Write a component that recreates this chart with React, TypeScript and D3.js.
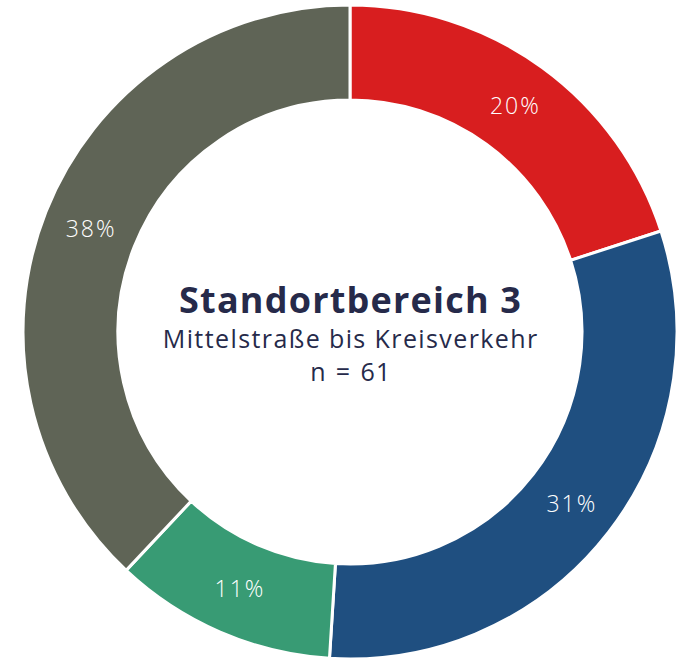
import React, { useEffect, useRef } from 'react';
import * as d3 from 'd3';

const WIDTH = 691;
const HEIGHT = 659;
const CX = 350;
const CY = 332;
const OUTER = 327;
const INNER = 232;

const categories = ['A', 'B', 'C', 'D'];
const shares = [20, 31, 11, 38];
const colors = ['#D81E1F', '#1F4F80', '#389B74', '#5F6456'];

const title = 'Standortbereich 3';
const subtitle = 'Mittelstraße bis Kreisverkehr';
const sampleLabel = 'n = 61';

const FONT = "'Open Sans', sans-serif";

export default function App() {
  const ref = useRef<SVGSVGElement>(null);

  useEffect(() => {
    if (!ref.current) return;
    const svg = d3.select(ref.current);
    svg.selectAll('*').remove();

    const pie = d3
      .pie<number>()
      .sort(null)
      .value((d) => d);

    const arc = d3
      .arc<d3.PieArcDatum<number>>()
      .innerRadius(INNER)
      .outerRadius(OUTER);

    const labelArc = d3
      .arc<d3.PieArcDatum<number>>()
      .innerRadius((INNER + OUTER) / 2)
      .outerRadius((INNER + OUTER) / 2);

    const g = svg.append('g').attr('transform', `translate(${CX}, ${CY})`);

    const arcs = pie(shares);

    g.selectAll('path')
      .data(arcs)
      .enter()
      .append('path')
      .attr('d', arc)
      .attr('fill', (_, i) => colors[i])
      .attr('stroke', '#fff')
      .attr('stroke-width', 3)
      .attr('data-cat', (_, i) => categories[i]);

    // percentage labels, letter-spacing widens them to the reference's font
    g.selectAll('text.pct')
      .data(arcs)
      .enter()
      .append('text')
      .attr('class', 'pct')
      .attr('transform', (d) => {
        const [x, y] = labelArc.centroid(d);
        return `translate(${x + 1}, ${y})`;
      })
      .attr('dy', '0.36em')
      .style('text-anchor', 'middle')
      .style('font-family', FONT)
      .style('font-size', '23px')
      .style('font-weight', '300')
      .style('letter-spacing', '2px')
      .style('fill', '#fff')
      .text((d) => `${d.data}%`);

    const textColor = '#262A4A';

    g.append('text')
      .attr('x', 0.6)
      .attr('y', -19)
      .style('text-anchor', 'middle')
      .style('font-family', FONT)
      .style('font-size', '36px')
      .style('font-weight', '700')
      .style('letter-spacing', '1.2px')
      .style('fill', textColor)
      .text(title);

    g.append('text')
      .attr('x', 0.7)
      .attr('y', 16)
      .style('text-anchor', 'middle')
      .style('font-family', FONT)
      .style('font-size', '25px')
      .style('font-weight', '400')
      .style('letter-spacing', '1.4px')
      .style('fill', textColor)
      .text(subtitle);

    g.append('text')
      .attr('x', 1)
      .attr('y', 49)
      .style('text-anchor', 'middle')
      .style('font-family', FONT)
      .style('font-size', '25px')
      .style('font-weight', '400')
      .style('letter-spacing', '1.4px')
      .style('word-spacing', '1px')
      .style('fill', textColor)
      .text(sampleLabel);
  }, []);

  return (
    <svg
      ref={ref}
      width={WIDTH}
      height={HEIGHT}
      style={{ position: 'absolute', left: 0, top: 0, background: '#fff' }}
    />
  );
}
